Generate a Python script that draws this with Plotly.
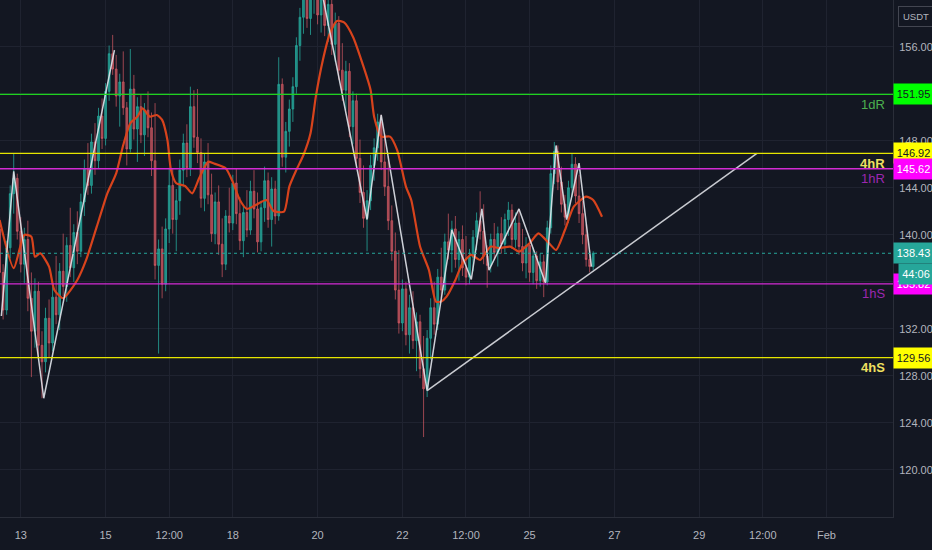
import pandas as pd
import plotly.graph_objects as go

# ---------------- data (LTC/USDT style, 2h candles) ----------------
start = pd.Timestamp("2021-01-12 12:00")

opens = [140.5, 136.8, 133.6, 138.9, 143.5, 144.8, 140.3, 137.5, 139.6, 134.6,
         131.8, 135.2, 130.6, 129.2, 132.9, 130.8, 134.7, 133.2, 136.9, 135.6,
         139.1, 137.2, 140.2, 138.6, 142.8, 145.6, 144.2, 147.9, 146.3, 150.1,
         148.2, 152.2, 155.4, 154.1, 151.8, 153.0, 150.8, 147.3, 152.4, 149.0,
         150.9, 148.5, 150.6, 149.1, 146.3, 137.4, 138.8, 135.8, 140.5, 144.2,
         141.3, 142.9, 145.5, 147.8, 145.7, 150.9, 148.3, 147.0, 143.1, 146.2,
         143.4, 140.1, 142.8, 139.2, 137.5, 141.6, 141.0, 144.4, 141.8, 139.5,
         141.9, 140.4, 143.7, 142.2, 139.4, 142.3, 144.6, 141.3, 143.9, 141.6,
         152.8, 146.6, 148.8, 150.7, 152.6, 156.1, 158.5, 160.9, 158.4, 160.7,
         161.9, 158.7, 160.4, 157.8, 159.6, 156.2, 158.0, 154.0, 152.3, 153.9,
         149.2, 151.4, 146.5, 143.6, 141.4, 142.9, 145.9, 147.4, 149.6, 146.2,
         144.1, 141.2, 138.6, 135.3, 132.5, 135.4, 131.5, 133.8, 131.0, 132.6,
         128.6, 126.9, 131.2, 133.8, 132.4, 136.4, 135.3, 139.4, 138.7, 140.5,
         137.9, 139.6, 137.2, 136.4, 138.1, 139.8, 141.2, 140.3, 138.2, 137.4,
         139.6, 138.5, 140.1, 139.2, 141.3, 142.1, 139.6, 141.0, 139.0, 137.6,
         139.1, 136.8, 138.2, 136.1, 137.7, 136.0, 140.6, 145.2, 147.1, 144.5,
         142.6, 141.5, 144.0, 146.0, 143.3, 141.8, 140.0, 137.9, 137.3]

highs = [141.5, 137.5, 139.5, 144.2, 146.9, 145.2, 141.5, 140.6, 141.2, 136.8,
         136.3, 136.0, 131.8, 133.8, 134.5, 135.6, 138.2, 137.6, 140.1, 139.8,
         142.3, 140.9, 142.0, 143.5, 146.4, 147.8, 148.6, 149.5, 150.8, 151.6,
         152.9, 156.1, 157.0, 155.3, 153.7, 155.6, 151.3, 155.8, 153.6, 151.7,
         151.9, 151.2, 152.2, 150.4, 151.2, 139.6, 140.7, 141.4, 145.7, 145.6,
         143.9, 146.4, 148.6, 149.4, 152.6, 152.3, 152.4, 148.2, 146.9, 147.8,
         145.2, 143.6, 144.2, 141.4, 142.1, 144.0, 145.1, 145.6, 143.2, 142.5,
         143.8, 144.6, 145.5, 143.6, 142.9, 145.8, 145.3, 144.9, 144.6, 155.1,
         153.3, 149.6, 151.5, 153.4, 156.8, 159.3, 162.2, 162.8, 161.6, 163.0,
         162.6, 161.3, 162.5, 160.6, 161.0, 158.9, 158.6, 156.3, 154.8, 154.6,
         152.2, 152.0, 148.1, 145.9, 143.8, 146.8, 148.2, 150.3, 150.2, 148.6,
         146.7, 142.5, 140.2, 138.7, 136.2, 136.0, 134.9, 135.2, 133.4, 133.2,
         131.4, 131.9, 134.6, 136.0, 137.1, 138.9, 140.1, 141.8, 141.2, 141.6,
         140.3, 140.8, 139.9, 138.8, 140.4, 141.9, 143.7, 142.6, 139.1, 140.1,
         141.0, 140.7, 141.5, 141.8, 142.8, 142.6, 141.9, 142.2, 140.5, 139.8,
         139.7, 138.9, 138.6, 138.4, 138.3, 141.2, 145.9, 147.9, 147.6, 145.8,
         143.4, 144.6, 146.9, 146.6, 145.1, 142.9, 140.9, 138.7, 138.6]

lows = [136.0, 132.8, 133.2, 138.0, 141.8, 139.6, 136.8, 135.9, 133.5, 127.9,
        130.4, 129.5, 126.1, 128.3, 129.6, 130.1, 132.4, 131.9, 134.8, 134.3,
        136.4, 136.0, 137.5, 138.1, 141.6, 143.4, 143.5, 145.1, 145.6, 147.3,
        147.6, 151.4, 153.6, 150.9, 149.2, 150.2, 145.9, 147.0, 148.1, 146.2,
        147.8, 146.7, 148.3, 145.0, 136.2, 129.9, 134.6, 135.2, 139.3, 140.1,
        138.6, 141.7, 144.1, 144.9, 145.0, 147.4, 146.1, 142.3, 142.0, 142.6,
        139.4, 139.2, 138.3, 136.4, 137.0, 140.2, 140.4, 140.9, 138.7, 138.1,
        139.8, 140.0, 141.4, 138.5, 138.6, 141.1, 140.6, 139.0, 140.9, 141.2,
        145.8, 145.3, 147.5, 149.6, 152.0, 154.8, 157.1, 157.6, 157.0, 158.8,
        157.9, 157.2, 156.9, 156.4, 155.3, 154.7, 153.2, 151.4, 150.6, 148.3,
        147.7, 145.8, 142.7, 140.6, 138.6, 142.1, 144.6, 146.3, 145.5, 143.3,
        140.4, 137.8, 134.5, 131.6, 131.8, 130.6, 129.9, 130.3, 128.4, 127.8,
        122.8, 126.2, 129.4, 131.5, 131.9, 134.6, 134.9, 137.9, 136.8, 137.2,
        136.1, 136.5, 135.7, 135.8, 136.9, 138.7, 139.6, 137.5, 135.5, 136.8,
        137.9, 137.3, 138.4, 138.5, 139.9, 138.8, 138.9, 138.3, 136.9, 136.3,
        136.0, 135.8, 135.4, 135.6, 134.7, 135.7, 140.1, 144.3, 143.8, 141.9,
        140.8, 141.0, 143.2, 142.7, 141.0, 139.2, 137.3, 136.8, 137.0]

closes = [136.8, 133.6, 138.9, 143.5, 144.8, 140.3, 137.5, 139.6, 134.6, 131.8,
          135.2, 130.6, 129.2, 132.9, 130.8, 134.7, 133.2, 136.9, 135.6, 139.1,
          137.2, 140.2, 138.6, 142.8, 145.6, 144.2, 147.9, 146.3, 150.1, 148.2,
          152.2, 155.4, 154.1, 151.8, 153.0, 150.8, 147.3, 152.4, 149.0, 150.9,
          148.5, 150.6, 149.1, 146.3, 137.4, 138.8, 135.8, 140.5, 144.2, 141.3,
          142.9, 145.5, 147.8, 145.7, 150.9, 148.3, 147.0, 143.1, 146.2, 143.4,
          140.1, 142.8, 139.2, 137.5, 141.6, 141.0, 144.4, 141.8, 139.5, 141.9,
          140.4, 143.7, 142.2, 139.4, 142.3, 144.6, 141.3, 143.9, 141.6, 152.8,
          146.6, 148.8, 150.7, 152.6, 156.1, 158.5, 160.9, 158.4, 160.7, 161.9,
          158.7, 160.4, 157.8, 159.6, 156.2, 158.0, 154.0, 152.3, 153.9, 149.2,
          151.4, 146.5, 143.6, 141.4, 142.9, 145.9, 147.4, 149.6, 146.2, 144.1,
          141.2, 138.6, 135.3, 132.5, 135.4, 131.5, 133.8, 131.0, 132.6, 128.6,
          126.9, 131.2, 133.8, 132.4, 136.4, 135.3, 139.4, 138.7, 140.5, 137.9,
          139.6, 137.2, 136.4, 138.1, 139.8, 141.2, 140.3, 138.2, 137.4, 139.6,
          138.5, 140.1, 139.2, 141.3, 142.1, 139.6, 141.0, 139.0, 137.6, 139.1,
          136.8, 138.2, 136.1, 137.7, 136.0, 140.6, 145.2, 147.1, 144.5, 142.6,
          141.5, 144.0, 146.0, 143.3, 141.8, 140.0, 137.9, 137.3, 138.43]

times = pd.date_range(start, periods=len(closes), freq="2h")

# moving average (red) – hours from Jan 13 00:00 and values
ma_base = pd.Timestamp("2021-01-13 00:00")
ma_hours = [-12, -4, 2, 6, 8, 11, 16, 19, 24, 32, 37, 43, 49, 54, 58, 62, 66, 69, 73, 77,
            80, 83, 85, 88, 93, 97, 101, 106, 109, 116, 120, 124, 128, 133, 139, 143, 149,
            152, 156, 160, 164, 167, 171, 175, 179, 183, 188, 194, 198, 200, 204, 209, 213,
            218, 221, 226, 231, 235, 238, 241, 246, 250, 255, 260, 266, 271, 277, 282, 288,
            293, 299, 303, 308, 313, 320, 324, 329]
ma_values = [141.26, 137.16, 139.99, 139.84, 138.14, 138.43, 137.29, 135.31, 134.61, 136.16,
             137.86, 140.69, 143.53, 145.23, 147.64, 149.49, 150.05, 150.76, 150.05, 150.19,
             149.77, 148.07, 145.52, 144.38, 144.15, 143.53, 144.83, 146.22, 146.08, 145.66,
             144.49, 142.96, 142.20, 142.54, 142.96, 142.03, 141.97, 144.10, 145.52, 146.79,
             148.64, 151.75, 154.87, 157.14, 158.19, 158.06, 156.85, 154.30, 152.32, 150.05,
             148.35, 148.35, 147.22, 144.10, 142.96, 139.00, 137.01, 134.32, 134.32, 134.74,
             136.16, 137.58, 138.29, 137.86, 139.00, 138.86, 139.00, 138.57, 139.28, 140.13,
             139.28, 138.71, 140.41, 142.39, 143.24, 142.96, 141.54]
ma_times = [ma_base + pd.Timedelta(hours=h) for h in ma_hours]

# zig-zag pivots (white)
zz_times = ["2021-01-12 13:00", "2021-01-12 20:00", "2021-01-13 13:00", "2021-01-15 05:00", None,
            "2021-01-20 00:00", "2021-01-21 04:00", "2021-01-21 12:00", "2021-01-22 14:00",
            "2021-01-23 04:00", "2021-01-23 15:00", "2021-01-23 21:00", "2021-01-24 01:00",
            "2021-01-24 18:00", "2021-01-25 09:00", "2021-01-25 15:00", "2021-01-25 21:00",
            "2021-01-26 04:00", "2021-01-26 11:00"]
zz_prices = [133.1, 145.4, 126.1, 155.7, None,
             162.5, 141.3, 150.2, 126.75, 140.4, 136.2, 142.2, 137.0, 142.2, 135.9,
             147.6, 141.3, 146.1, 137.3]

# trend line
trend_times = ["2021-01-22 14:00", "2021-01-30 08:40"]
trend_prices = [126.75, 146.92]

# support / resistance levels
level_values = [151.95, 146.92, 145.62, 135.82, 129.56]
level_names = ["1dR", "4hR", "1hR", "1hS", "4hS"]
level_line_colors = ["#1ed21e", "#e6e600", "#d42bd4", "#d42bd4", "#e6e600"]
level_box_colors = ["#00ff00", "#ffff00", "#ff00ff", "#ff00ff", "#ffff00"]
level_box_text = ["#131722", "#131722", "#ffffff", "#ffffff", "#131722"]
level_name_colors = ["#4caf50", "#f0e060", "#9c27b0", "#9c27b0", "#f0e060"]
level_name_bold = [False, True, False, False, True]

last_price = 138.43
countdown = "44:06"

y_ticks = [120, 124, 128, 132, 136, 140, 144, 148, 152, 156]
x_tick_vals = ["2021-01-13", "2021-01-15", "2021-01-16 12:00", "2021-01-18", "2021-01-20",
               "2021-01-22", "2021-01-23 12:00", "2021-01-25", "2021-01-27", "2021-01-29",
               "2021-01-30 12:00", "2021-02-01"]
x_tick_text = ["13", "15", "12:00", "18", "20", "22", "12:00", "25", "27", "29", "12:00", "Feb"]

# ---------------- figure ----------------
BG = "#131722"
GRID = "#1f2330"
TXT = "#b2b5be"
FONT = "Liberation Sans, Arial, sans-serif"

fig = go.Figure()

fig.add_trace(go.Candlestick(
    x=times, open=opens, high=highs, low=lows, close=closes,
    increasing=dict(line=dict(color="rgba(38,166,154,0.8)", width=1),
                    fillcolor="rgba(38,166,154,0.8)"),
    decreasing=dict(line=dict(color="rgba(214,90,100,0.7)", width=1),
                    fillcolor="rgba(214,90,100,0.7)"),
    whiskerwidth=0, hoverinfo="skip", showlegend=False))

fig.add_trace(go.Scatter(x=ma_times, y=ma_values, mode="lines",
                         line=dict(color="#d8431c", width=2.2, shape="spline", smoothing=0.6),
                         hoverinfo="skip", showlegend=False))

fig.add_trace(go.Scatter(x=zz_times, y=zz_prices, mode="lines", connectgaps=False,
                         line=dict(color="rgba(225,228,235,0.9)", width=1.5),
                         hoverinfo="skip", showlegend=False))

fig.add_trace(go.Scatter(x=trend_times, y=trend_prices, mode="lines",
                         line=dict(color="#c9cbd1", width=1.5),
                         hoverinfo="skip", showlegend=False))

shapes = []
for v, c in zip(level_values, level_line_colors):
    shapes.append(dict(type="line", xref="paper", x0=0, x1=1, yref="y", y0=v, y1=v,
                       line=dict(color=c, width=1.3), layer="above"))
shapes.append(dict(type="line", xref="paper", x0=0, x1=1, yref="y", y0=last_price, y1=last_price,
                   line=dict(color="#26a69a", width=1, dash="dot"), layer="above"))

annotations = []
# in-plot level names
for v, n, c, b in zip(level_values, level_names, level_name_colors, level_name_bold):
    annotations.append(dict(xref="paper", x=1, xanchor="right", xshift=-6,
                            yref="y", y=v, yanchor="middle", yshift=-10,
                            text=f"<b>{n}</b>" if b else n, showarrow=False,
                            font=dict(family=FONT, size=13, color=c)))
# axis price boxes (order matters for overlap)
order = [0, 1, 2, 4, 3]
for i in order:
    v = level_values[i]
    annotations.append(dict(xref="paper", x=1, xanchor="left", xshift=0,
                            yref="y", y=v, yanchor="middle",
                            text=f"{v:.2f}", showarrow=False, width=37, height=18,
                            bgcolor=level_box_colors[i], borderpad=1,
                            font=dict(family=FONT, size=11, color=level_box_text[i])))
annotations.append(dict(xref="paper", x=1, xanchor="left", xshift=0,
                        yref="y", y=last_price, yanchor="middle",
                        text=f"{last_price:.2f}", showarrow=False, width=37, height=18,
                        bgcolor="#26a69a", borderpad=1,
                        font=dict(family=FONT, size=11, color="#ffffff")))
annotations.append(dict(xref="paper", x=1, xanchor="left", xshift=5,
                        yref="y", y=last_price, yanchor="middle", yshift=-21,
                        text=countdown, showarrow=False, width=32, height=18,
                        bgcolor="#26a69a", borderpad=1,
                        font=dict(family=FONT, size=11, color="#ffffff")))
annotations.append(dict(xref="paper", x=1, xanchor="left", xshift=5,
                        yref="paper", y=1, yanchor="top", yshift=-6,
                        text="USDT", showarrow=False, borderpad=4,
                        bordercolor="#434651", borderwidth=1, bgcolor=BG,
                        font=dict(family=FONT, size=9.5, color=TXT)))

fig.update_layout(
    width=932, height=550,
    margin=dict(l=0, r=39, t=0, b=33, autoexpand=False),
    paper_bgcolor=BG, plot_bgcolor=BG,
    shapes=shapes, annotations=annotations,
    showlegend=False,
    xaxis=dict(type="date", range=["2021-01-12 12:14", "2021-02-02 13:42"],
               rangeslider=dict(visible=False),
               tickvals=x_tick_vals, ticktext=x_tick_text,
               tickfont=dict(family=FONT, size=11, color=TXT),
               showgrid=True, gridcolor=GRID, gridwidth=1,
               zeroline=False, showline=True, linecolor="#2a2e39",
               ticks="", ticklabelstandoff=8, fixedrange=True),
    yaxis=dict(side="right", range=[116.0, 159.97],
               tickvals=y_ticks, ticktext=[f"{t:.2f}" for t in y_ticks],
               tickfont=dict(family=FONT, size=11, color=TXT),
               showgrid=True, gridcolor=GRID, gridwidth=1,
               zeroline=False, showline=True, linecolor="#2a2e39",
               ticks="", ticklabelstandoff=3, fixedrange=True),
)

fig.write_html("out.html", config={"displayModeBar": False},
               post_script="document.body.style.margin='0px';"
                           "document.body.style.background='#131722';"
                           "document.body.style.overflow='hidden';")
